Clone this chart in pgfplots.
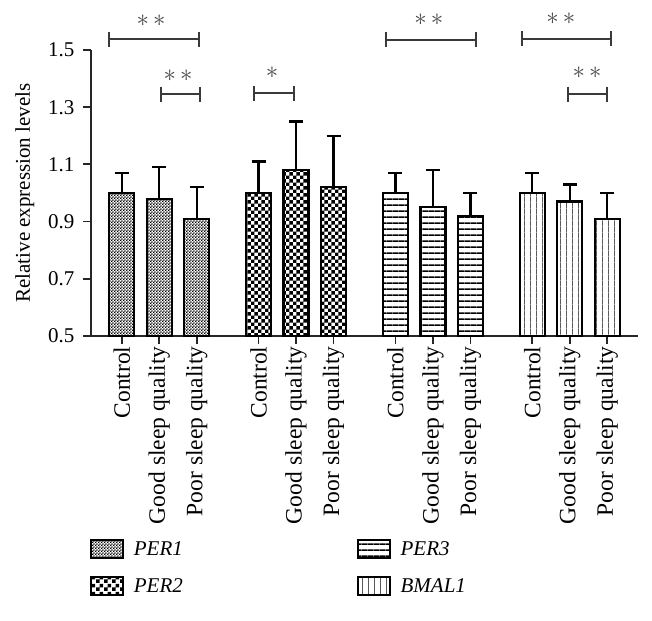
\documentclass[border=0pt]{standalone}
\usepackage{pgfplots}
\pgfplotsset{compat=1.18}
\usepackage{fontspec}
\setmainfont{Liberation Serif}
\usetikzlibrary{patterns.meta}

\pgfdeclarepattern{name=finechk,
  bottom left={\pgfpointorigin}, top right={\pgfpoint{3.2bp}{3.2bp}},
  tile size={\pgfpoint{3.2bp}{3.2bp}},
  code={\pgfpathrectangle{\pgfpointorigin}{\pgfpoint{1.6bp}{1.6bp}}
        \pgfpathrectangle{\pgfpoint{1.6bp}{1.6bp}}{\pgfpoint{1.6bp}{1.6bp}}
        \pgfusepath{fill}}}
\pgfdeclarepattern{name=bigchk,
  bottom left={\pgfpointorigin}, top right={\pgfpoint{7.4bp}{7.4bp}},
  tile size={\pgfpoint{7.4bp}{7.4bp}},
  code={\pgfpathrectangle{\pgfpointorigin}{\pgfpoint{3.7bp}{3.7bp}}
        \pgfpathrectangle{\pgfpoint{3.7bp}{3.7bp}}{\pgfpoint{3.7bp}{3.7bp}}
        \pgfusepath{fill}}}
\pgfdeclarepattern{name=hlin,
  bottom left={\pgfpointorigin}, top right={\pgfpoint{6.25bp}{6.25bp}},
  tile size={\pgfpoint{6.25bp}{6.25bp}},
  code={\pgfpathrectangle{\pgfpoint{0bp}{2.4bp}}{\pgfpoint{6.25bp}{1.5bp}}
        \pgfusepath{fill}}}
\pgfdeclarepattern{name=vlin,
  bottom left={\pgfpointorigin}, top right={\pgfpoint{6.25bp}{6.25bp}},
  tile size={\pgfpoint{6.25bp}{6.25bp}},
  code={\pgfpathrectangle{\pgfpoint{-0.7bp}{0bp}}{\pgfpoint{1.4bp}{6.25bp}}
        \pgfusepath{fill}}}

\definecolor{brkc}{HTML}{3A3A3A}
\definecolor{starc}{HTML}{474747}
\newcommand{\fsz}{\fontsize{21bp}{25bp}\selectfont}
\newcommand{\xfsz}{\fontsize{23.5bp}{28bp}\selectfont}
\newcommand{\brk}[3]{%
  \draw[brkc, line width=2bp] (axis cs:#1,#3) -- (axis cs:#2,#3);
  \draw[brkc, line width=2bp] ([yshift=7.5bp]axis cs:#1,#3) -- ([yshift=-7.5bp]axis cs:#1,#3);
  \draw[brkc, line width=2bp] ([yshift=7.5bp]axis cs:#2,#3) -- ([yshift=-7.5bp]axis cs:#2,#3);}

\tikzset{sigstar/.style={text=starc, font=\fontsize{24.88bp}{28bp}\selectfont}}
\pgfplotsset{
  mybar/.style={ybar, bar width=25bp, draw=black, line width=2.2bp, pattern color=black,
    legend image code/.code={\draw[##1,/tikz/.cd,line width=1.8bp] (0bp,-9bp) rectangle (32bp,9bp);},
    error bars/.cd, y dir=plus, y explicit,
    error bar style={line width=2.2bp, black},
    error mark options={rotate=90, mark size=7bp, line width=2.2bp, black},
    /pgfplots/.cd},
}

\begin{document}
\begin{tikzpicture}
\path (0,0) rectangle (652bp,621bp);
\begin{axis}[
  at={(91bp,285bp)}, anchor=south west,
  scale only axis, width=547bp, height=286bp,
  xmin=-0.82, xmax=13.77, ymin=0.5, ymax=1.5,
  axis lines*=left, axis line style={-, line width=1.8bp, black!85},
  clip=false,
  /pgf/number format/assume math mode=true,
  ytick={0.5,0.7,0.9,1.1,1.3,1.5},
  yticklabel style={/pgf/number format/.cd, fixed, fixed zerofill, precision=1, /tikz/.cd, font=\fsz, xshift=-5bp},
  xtick={0,1,2,3.65,4.65,5.65,7.3,8.3,9.3,10.95,11.95,12.95},
  xticklabels={Control, Good sleep quality, Poor sleep quality,
               Control, Good sleep quality, Poor sleep quality,
               Control, Good sleep quality, Poor sleep quality,
               Control, Good sleep quality, Poor sleep quality},
  xticklabel style={rotate=90, anchor=east, font=\xfsz, xshift=1bp},
  tick style={line width=1.8bp, black!85}, tick align=outside, major tick length=8bp,
  ylabel={Relative expression levels},
  ylabel style={at={(axis description cs:-0.121,0.5)}, anchor=center, font=\fsz},
  legend columns=2, transpose legend, legend cell align=left,
  legend style={at={(axis description cs:-0.002,-0.71)}, anchor=north west,
    draw=none, fill=none, inner sep=0pt, font=\fsz\itshape, row sep=17bp,
    /tikz/every odd column/.append style={column sep=8bp},
    /tikz/every even column/.append style={column sep=172bp}},
]
\addplot[mybar, pattern=finechk] coordinates {(0,1.00) +- (0,0.07) (1,0.98) +- (0,0.11) (2,0.91) +- (0,0.11)};
\addlegendentry{PER1}
\addplot[mybar, pattern=bigchk] coordinates {(3.65,1.00) +- (0,0.11) (4.65,1.08) +- (0,0.17) (5.65,1.02) +- (0,0.18)};
\addlegendentry{PER2}
\addplot[mybar, pattern=hlin] coordinates {(7.3,1.00) +- (0,0.07) (8.3,0.95) +- (0,0.13) (9.3,0.92) +- (0,0.08)};
\addlegendentry{PER3}
\addplot[mybar, pattern=vlin] coordinates {(10.95,1.00) +- (0,0.07) (11.95,0.97) +- (0,0.06) (12.95,0.91) +- (0,0.09)};
\addlegendentry{BMAL1}

\brk{-0.34}{2.05}{1.537}
\brk{1.05}{2.10}{1.345}
\brk{3.52}{4.59}{1.349}
\brk{7.04}{9.44}{1.535}
\brk{10.67}{13.05}{1.540}
\brk{11.90}{12.93}{1.346}

\node[sigstar] at (axis cs:0.78,1.601) {$\ast\,\ast$};
\node[sigstar] at (axis cs:1.50,1.409) {$\ast\,\ast$};
\node[sigstar] at (axis cs:4.01,1.420) {$\ast$};
\node[sigstar] at (axis cs:8.19,1.605) {$\ast\,\ast$};
\node[sigstar] at (axis cs:11.71,1.608) {$\ast\,\ast$};
\node[sigstar] at (axis cs:12.41,1.421) {$\ast\,\ast$};
\end{axis}
\end{tikzpicture}
\end{document}
